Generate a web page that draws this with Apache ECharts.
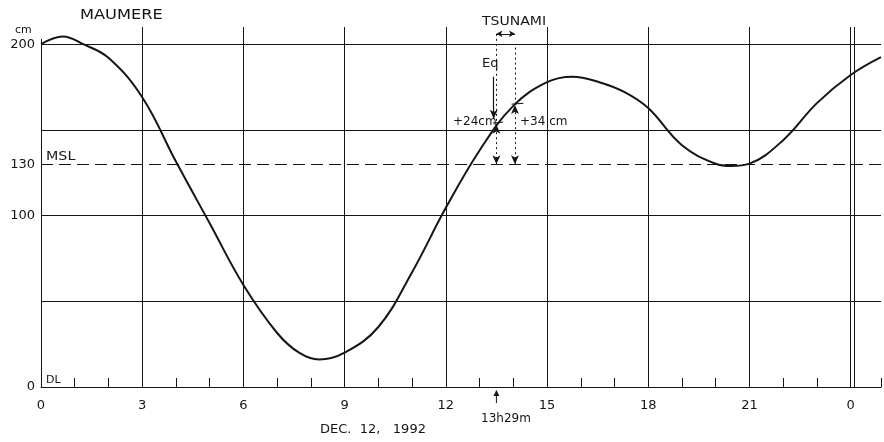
<!DOCTYPE html>
<html>
<head>
<meta charset="utf-8">
<script src="https://cdn.jsdelivr.net/npm/echarts@6/dist/echarts.min.js"></script>
<style>
  html, body { margin: 0; padding: 0; background: #fff; }
  #chart { width: 884px; height: 442px; }
</style>
</head>
<body>
<div id="chart"></div>
<script>
// tide record, Maumere, 12 Dec 1992 (hours, cm above DL)
var hours = [0, 0.65, 1.25, 2, 3, 4, 5, 6, 7, 7.65, 8.25, 9, 10, 11, 12, 13, 14, 15, 15.75, 16.55, 17.3, 18, 19, 20, 20.45, 21, 22, 23, 24, 24.9];
var level = [200, 204.5, 200, 192, 169, 131.5, 95.5, 59.5, 31.5, 20, 16, 20, 35, 67, 104.5, 138, 164, 177.8, 181, 177.8, 172, 162.7, 141, 130.2, 128.9, 130.3, 144, 165.6, 182, 192.4];

var yLabels = [0, 100, 130, 200];
var hGrid = [50, 100, 150, 200];
var vGrid = [3, 6, 9, 12, 15, 18, 21, 24, 24.1];
var msl = 130;

// earthquake and tsunami arrival
var eqHour = 13.5;       // 13h29m
var eqLevel = 153;       // +24cm
var tsuHour = 14.05;
var tsuLevel = 164.5;    // +34cm

var ink = '#151515';
var font = 'DejaVu Sans';

var chart = echarts.init(document.getElementById('chart'));

var dotted = { color: ink, width: 1, type: [2, 3] };
var solid = { color: ink, width: 1, type: 'solid' };

var guides = [];
hGrid.forEach(function (v) { guides.push({ yAxis: v, lineStyle: solid }); });
vGrid.forEach(function (v) { guides.push({ xAxis: v, lineStyle: solid }); });
guides.push({ yAxis: msl, lineStyle: { color: ink, width: 1, type: [12, 6] } });
guides.push([{ coord: [0, 0], lineStyle: solid }, { coord: [0, 203] }]);

// annotations
guides.push([{ coord: [eqHour - 0.08, 181], lineStyle: { color: ink, width: 1.2 } }, { coord: [eqHour - 0.08, eqLevel + 3.5], symbol: 'arrow' }]);
guides.push([{ coord: [eqHour, 206], lineStyle: dotted }, { coord: [eqHour, eqLevel] }]);
guides.push([{ coord: [eqHour, msl], symbol: 'arrow', lineStyle: dotted }, { coord: [eqHour, eqLevel], symbol: 'arrow' }]);
guides.push([{ coord: [tsuHour, 198], lineStyle: dotted }, { coord: [tsuHour, tsuLevel] }]);
guides.push([{ coord: [tsuHour, msl], symbol: 'arrow', lineStyle: dotted }, { coord: [tsuHour, tsuLevel], symbol: 'arrow' }]);
guides.push([{ coord: [eqHour, 206], symbol: 'arrow', symbolSize: [5, 6], lineStyle: solid }, { coord: [tsuHour, 206], symbol: 'arrow', symbolSize: [5, 6] }]);
guides.push([{ coord: [eqHour - 0.1, eqLevel + 1], lineStyle: solid }, { coord: [eqHour + 0.2, eqLevel + 1.5] }]);
guides.push([{ coord: [tsuHour - 0.1, tsuLevel + 0.5], lineStyle: solid }, { coord: [tsuHour + 0.25, tsuLevel + 1] }]);

function txt(text, x, y, size, opts) {
    opts = opts || {};
    return {
        type: 'text', x: x, y: y, scaleX: opts.sx || 1, silent: true,
        style: {
            text: text, fontSize: size, fontFamily: font, fill: ink,
            align: opts.align || 'left', verticalAlign: 'middle'
        }
    };
}

var option = {
    animation: false,
    backgroundColor: '#fff',
    grid: { left: 41, right: 0, top: 27, bottom: 55 },
    xAxis: {
        type: 'value', min: 0, max: 24.9, interval: 1,
        axisLine: { lineStyle: { color: ink, width: 1 } },
        axisTick: { inside: true, length: 9, lineStyle: { color: ink } },
        splitLine: { show: false },
        axisLabel: {
            margin: 12, fontSize: 13, fontFamily: font, color: ink,
            formatter: function (v) { return (v % 3 === 0 && v <= 24) ? String(v % 24) : ''; }
        }
    },
    yAxis: {
        type: 'value', min: 0, max: 210, interval: 10,
        axisLine: { show: false },
        axisTick: { show: false },
        splitLine: { show: false },
        axisLabel: {
            margin: 6, fontSize: 13, fontFamily: font, color: ink,
            formatter: function (v) { return yLabels.indexOf(v) >= 0 ? String(v) : ''; }
        }
    },
    series: [{
        type: 'line',
        data: hours.map(function (h, i) { return [h, level[i]]; }),
        smooth: 0.4,
        symbol: 'none',
        lineStyle: { color: ink, width: 2 },
        z: 5,
        markLine: {
            silent: true,
            symbol: ['none', 'none'],
            symbolSize: [6, 9],
            label: { show: false },
            lineStyle: solid,
            itemStyle: { color: ink },
            data: guides
        }
    }],
    graphic: [
        txt('MAUMERE', 80, 15, 14, { sx: 1.16 }),
        txt('cm', 15, 30, 11),
        txt('MSL', 46, 157, 13, { sx: 1.1 }),
        txt('DL', 46, 380, 11),
        txt('TSUNAMI', 482, 22, 13, { sx: 1.08 }),
        txt('Eq', 482, 64, 13),
        txt('+24cm', 453, 122, 12),
        txt('+34 cm', 520, 122, 12),
        txt('13h29m', 506, 419, 12, { align: 'center' }),
        txt('DEC.  12,   1992', 373, 430, 13, { align: 'center' })
    ]
};

chart.setOption(option);

// little arrow under the axis pointing at the earthquake time
var p = chart.convertToPixel({ gridIndex: 0 }, [eqHour, 0]);
chart.setOption({
    graphic: option.graphic.concat([
        { type: 'line', silent: true, shape: { x1: p[0], y1: p[1] + 16, x2: p[0], y2: p[1] + 4 }, style: { stroke: ink, lineWidth: 1 } },
        { type: 'polygon', silent: true, shape: { points: [[p[0] - 3, p[1] + 9], [p[0], p[1] + 3], [p[0] + 3, p[1] + 9]] }, style: { fill: ink } }
    ])
});
</script>
</body>
</html>
